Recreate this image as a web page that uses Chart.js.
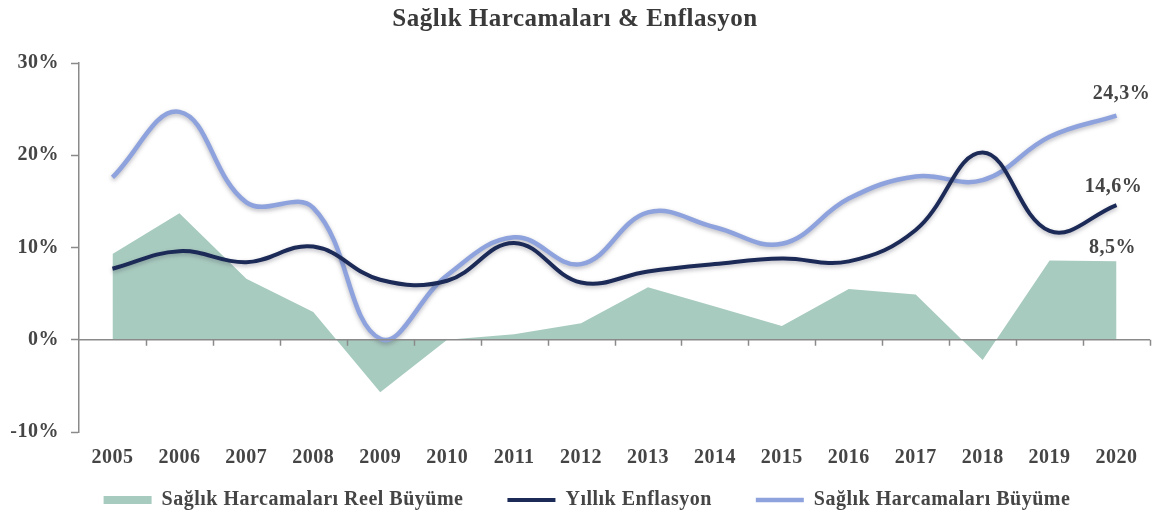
<!DOCTYPE html>
<html><head><meta charset="utf-8">
<script src="https://cdn.jsdelivr.net/npm/chart.js@4/dist/chart.umd.min.js"></script>
<style>html,body{margin:0;padding:0;background:#fff}#wrap{width:1158px;height:519px}</style>
</head><body><div id="wrap"><canvas id="c"></canvas></div>
<script>
const years = ['2005','2006','2007','2008','2009','2010','2011','2012','2013','2014','2015','2016','2017','2018','2019','2020'];
const reelBuyume = [9.3, 13.7, 6.6, 3.0, -5.7, 0.0, 0.6, 1.8, 5.7, 3.6, 1.5, 5.5, 4.9, -2.2, 8.6, 8.5];
const enflasyon = [7.7, 9.6, 8.4, 10.1, 6.5, 6.4, 10.5, 6.2, 7.4, 8.2, 8.8, 8.5, 11.9, 20.3, 11.8, 14.6];
const harcamaBuyume = [17.6, 24.7, 14.9, 14.3, 0.1, 7.0, 11.1, 8.2, 13.8, 12.2, 10.4, 15.3, 17.7, 17.3, 22.0, 24.3];
const yTicks = [-10, 0, 10, 20, 30];

const FONT = "'Liberation Serif','Times New Roman',serif";
const TXT = '#454545';
const SPACING = '0.5px';

const spacingPlugin = {
  id: 'spacing',
  beforeUpdate(chart){ chart.ctx.letterSpacing = SPACING; },
  beforeLayout(chart){ chart.ctx.letterSpacing = SPACING; },
  afterLayout(chart){
    // raise the top of the legend box so its row sits at the reference height (bottom edge unchanged)
    const lg = chart.legend;
    if (lg) {
      const dy = 500 - (lg.top + lg.options.labels.padding + 10);
      lg.top += dy; lg.height = lg.bottom - lg.top;
      lg.left += 12; lg.right += 12;
    }
  },
  beforeDraw(chart){ chart.ctx.letterSpacing = SPACING; }
};

const shadowPlugin = {
  id: 'lineShadow',
  beforeDatasetDraw(chart, args){
    if (args.index > 0) {
      const c = chart.ctx; c.save();
      c.shadowColor = 'rgba(60,60,80,0.35)'; c.shadowBlur = 4; c.shadowOffsetY = 2;
    }
  },
  afterDatasetDraw(chart, args){
    if (args.index > 0) chart.ctx.restore();
  }
};

const zeroTicks = {
  id: 'zeroTicks',
  afterDatasetsDraw(chart){
    const x = chart.scales.x, y = chart.scales.y, c = chart.ctx;
    const y0 = y.getPixelForValue(0);
    const n = years.length, step = (x.right - x.left) / n;
    c.save(); c.strokeStyle = '#8a8a8a'; c.lineWidth = 1.5;
    c.beginPath(); c.moveTo(x.left, y0); c.lineTo(x.right, y0); c.stroke();
    for (let i = 1; i <= n; i++) {
      const px = Math.round(x.left + i * step) + 0.5;
      c.beginPath(); c.moveTo(px, y0); c.lineTo(px, y0 + 6); c.stroke();
    }
    c.restore();
  }
};

const labelOffsets = [[-4, -14], [-3, -18], [5, -22]];
const endLabels = {
  id: 'endLabels',
  afterDatasetsDraw(chart){
    const c = chart.ctx; c.save();
    c.font = "bold 20px " + FONT; c.fillStyle = TXT; c.textAlign = 'center'; c.textBaseline = 'middle';
    chart.data.datasets.forEach((ds, i) => {
      const meta = chart.getDatasetMeta(i);
      const last = meta.data[meta.data.length - 1];
      const v = ds.data[ds.data.length - 1];
      const o = labelOffsets[i];
      c.fillText(v.toFixed(1).replace('.', ',') + '%', last.x + o[0], last.y + o[1]);
    });
    c.restore();
  }
};

new Chart(document.getElementById('c'), {
  type: 'line',
  data: {
    labels: years,
    datasets: [
      { label: 'Sağlık Harcamaları Reel Büyüme', data: reelBuyume, fill: 'origin', backgroundColor: '#a8cbbf',
        borderWidth: 0, borderColor: 'rgba(0,0,0,0)', tension: 0, pointRadius: 0, pointStyle: 'rect', order: 3 },
      { label: 'Yıllık Enflasyon', data: enflasyon, borderColor: '#1c2a57', backgroundColor: '#1c2a57',
        borderWidth: 4, tension: 0.4, pointRadius: 0, pointStyle: 'line', fill: false, order: 1 },
      { label: 'Sağlık Harcamaları Büyüme', data: harcamaBuyume, borderColor: '#8ea3dd', backgroundColor: '#8ea3dd',
        borderWidth: 4.5, tension: 0.4, pointRadius: 0, pointStyle: 'line', fill: false, order: 2 }
    ]
  },
  options: {
    responsive: true, maintainAspectRatio: false, animation: false,
    layout: { padding: { left: 0, right: 8, top: 0, bottom: 0 } },
    plugins: {
      title: { display: true, text: 'Sağlık Harcamaları & Enflasyon', color: '#3a3a3a',
        font: { family: FONT, size: 25, weight: 'bold' }, padding: { top: 5, bottom: 28 } },
      legend: { position: 'bottom', maxHeight: 47,
        labels: { usePointStyle: true, pointStyleWidth: 48, boxHeight: 8, padding: 44, color: TXT,
          sort: (a, b) => a.datasetIndex - b.datasetIndex,
          font: { family: FONT, size: 20, weight: 'bold' } } },
      tooltip: { enabled: false }
    },
    scales: {
      x: { offset: true, grid: { display: false, drawTicks: false }, border: { display: false },
        afterFit(s){ s.height = 40; },
        ticks: { color: TXT, padding: 14, font: { family: FONT, size: 20, weight: 'bold' } } },
      y: { min: -10, max: 30,
        afterBuildTicks(s){ s.ticks = yTicks.map(v => ({ value: v })); },
        afterFit(s){ s.width = 79; },
        grid: { drawOnChartArea: false, tickLength: 8, tickColor: '#8a8a8a', tickWidth: 1.5 },
        border: { display: true, color: '#8a8a8a', width: 1.5 },
        ticks: { color: TXT, padding: 12, callback: v => v + '%', font: { family: FONT, size: 20, weight: 'bold' } } }
    }
  },
  plugins: [spacingPlugin, shadowPlugin, zeroTicks, endLabels]
});
</script></body></html>
